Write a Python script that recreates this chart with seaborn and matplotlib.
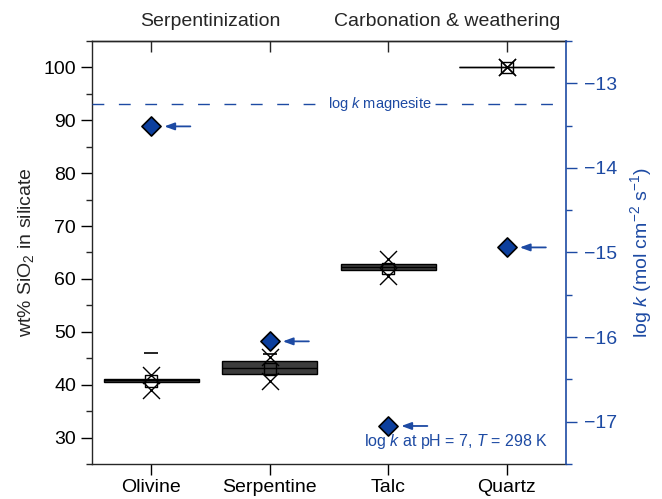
import numpy as np
import pandas as pd
import matplotlib
matplotlib.use('Agg')
import matplotlib.pyplot as plt
from matplotlib.ticker import AutoMinorLocator, MultipleLocator
import seaborn as sns

# ---------------- data ----------------
minerals = ['Olivine', 'Serpentine', 'Talc', 'Quartz']
box_q1 = [40.45, 42.0, 61.6, 100.0]
box_median = [40.8, 43.1, 62.3, 100.0]
box_q3 = [41.15, 44.5, 62.8, 100.0]
sio2_mean = [40.7, 43.0, 62.0, 100.0]
sio2_p99 = [41.8, 45.3, 63.7, 100.0]
sio2_p1 = [39.0, 40.7, 60.6, 100.0]
sio2_max = [46.0, 45.8, np.nan, np.nan]
logk = [-13.51, -16.05, -17.05, -14.94]
logk_magnesite = -13.25
top_labels = ['Serpentinization', 'Carbonation & weathering']
top_label_pos = [0.5, 2.5]

BLUE = '#1d4aa3'
DBLUE = '#0c3f9e'

sns.set_style('ticks')
plt.rcParams['font.family'] = ['Liberation Sans', 'DejaVu Sans']
plt.rcParams['mathtext.fontset'] = 'custom'
plt.rcParams['mathtext.rm'] = 'Liberation Sans'
plt.rcParams['mathtext.it'] = 'Liberation Sans:italic'
plt.rcParams['mathtext.bf'] = 'Liberation Sans:bold'
plt.rcParams['axes.linewidth'] = 1.0

fig = plt.figure(figsize=(6.62, 4.99), dpi=100)
ax = fig.add_axes([0.139, 0.070, 0.716, 0.848])

# box table built from the quartile arrays
rows = []
for m, a, med, b in zip(minerals, box_q1, box_median, box_q3):
    for v in (a, a, med, b, b):
        rows.append({'mineral': m, 'sio2': v})
df = pd.DataFrame(rows)

sns.boxplot(data=df, x='mineral', y='sio2', order=minerals, width=0.8,
            color='#3c3c3c', saturation=1, linecolor='black', linewidth=1,
            showcaps=False, whis=(0, 100), fliersize=0,
            medianprops=dict(color='black', linewidth=1), ax=ax)

pos = np.arange(len(minerals))
sns.scatterplot(x=pos, y=sio2_mean, marker='s', s=70, facecolor='none',
                edgecolor='black', linewidth=1, ax=ax, zorder=5)
sns.scatterplot(x=pos, y=sio2_p99, marker='x', s=150, color='black',
                linewidth=1, ax=ax, zorder=5)
sns.scatterplot(x=pos, y=sio2_p1, marker='x', s=150, color='black',
                linewidth=1, ax=ax, zorder=5)
sns.scatterplot(x=pos, y=sio2_max, marker='_', s=110, color='black',
                linewidth=1.2, ax=ax, zorder=5)

ax.set_xlim(-0.5, 3.5)
ax.set_ylim(25, 105)
ax.set_yticks([30, 40, 50, 60, 70, 80, 90, 100])
ax.yaxis.set_minor_locator(AutoMinorLocator(2))
ax.set_xticks(pos)
ax.set_xticklabels(minerals)
ax.set_xlabel('')
ax.set_ylabel(r'wt% SiO$_2$ in silicate', fontsize=14)
ax.yaxis.set_label_coords(-0.118, 0.5)
ax.tick_params(axis='both', which='major', labelsize=14, length=8, width=1,
               direction='out', colors='black')
ax.tick_params(axis='y', which='minor', length=4, width=1, direction='out')
ax.tick_params(axis='x', pad=2.5)
ax.spines['right'].set_visible(False)

sec = ax.secondary_xaxis('top')
sec.set_xticks(pos)
sec.tick_params(direction='in', length=8, width=1, labeltop=False)

for lab, xp in zip(top_labels, top_label_pos):
    ax.text(xp, 1.045, lab, transform=ax.get_xaxis_transform(),
            ha='center', va='center', fontsize=14)

# right axis: log k
ax2 = ax.twinx()
ax2.set_ylim(-17.5, -12.5)
ax2.set_yticks([-17, -16, -15, -14, -13])
ax2.yaxis.set_minor_locator(MultipleLocator(0.5))
for s in ['left', 'top', 'bottom']:
    ax2.spines[s].set_visible(False)
ax2.spines['right'].set_color(BLUE)
ax2.spines['right'].set_linewidth(1.2)
ax2.tick_params(axis='y', which='major', labelsize=14, length=8, width=1,
                colors=BLUE, pad=5)
ax2.tick_params(axis='y', which='minor', length=4, width=1, colors=BLUE)
ax2.set_ylabel(r'log $k$ (mol cm$^{-2}$ s$^{-1}$)', fontsize=14, color=BLUE)
ax2.yaxis.set_label_coords(1.131, 0.5)

ax2.axhline(logk_magnesite, color=BLUE, lw=1, dashes=(8.5, 10.5), zorder=1)
ax2.text(1.93, logk_magnesite, r'log $k$ magnesite', ha='center', va='center',
         fontsize=10.5, color=BLUE,
         bbox=dict(facecolor='white', edgecolor='none', pad=1.5), zorder=2)

sns.scatterplot(x=pos, y=logk, marker='D', s=95, color=DBLUE,
                edgecolor='black', linewidth=1.2, ax=ax2, zorder=6)
for xp, yv in zip(pos, logk):
    ax2.annotate('', xy=(xp + 0.11, yv), xytext=(xp + 0.33, yv),
                 arrowprops=dict(arrowstyle='-|>,head_length=0.6,head_width=0.22',
                                 color=BLUE, lw=1.3, shrinkA=0, shrinkB=0))

ax.text(0.962, 0.054, r'log $k$ at pH = 7, $T$ = 298 K', transform=ax.transAxes,
        ha='right', va='center', fontsize=11.5, color=BLUE)

fig.savefig('out.png', dpi=100)
